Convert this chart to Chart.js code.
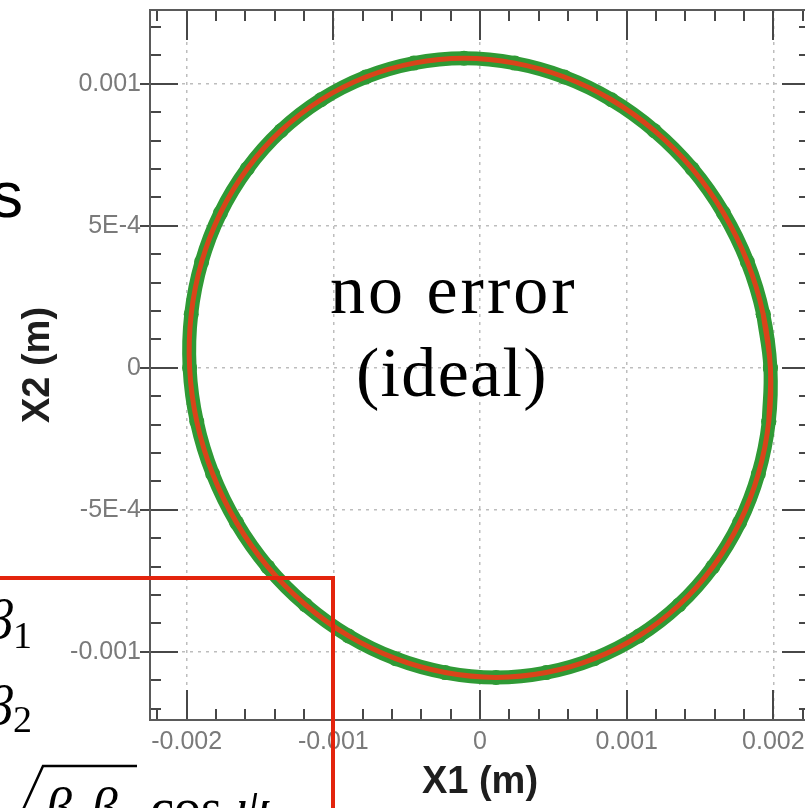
<!DOCTYPE html>
<html>
<head>
<meta charset="utf-8">
<script src="https://cdn.jsdelivr.net/npm/chart.js@4/dist/chart.umd.min.js"></script>
<style>
  html, body { margin: 0; padding: 0; background: #fff; overflow: hidden; }
  #wrap { position: relative; width: 805px; height: 808px; overflow: hidden; background: #fff; }
  #plot { position: absolute; left: 0; top: 0; }
  .txt { position: absolute; white-space: nowrap; line-height: 1; }
  .sans { font-family: "Liberation Sans", Arial, sans-serif; color: #000; }
  .serif { font-family: "Liberation Serif", "Times New Roman", serif; color: #000; }
  .it { font-style: italic; }
  #box { position: absolute; left: -10px; top: 576px; width: 341px; height: 300px;
         border-top: 4.5px solid #e3240d; border-right: 4.5px solid #e3240d; }
  .sub { font-size: 0.7em; position: relative; top: 0.22em; }
</style>
</head>
<body>
<div id="wrap">
  <canvas id="plot" width="830" height="808"></canvas>

  <!-- tail of the slide heading -->
  <div class="txt sans" style="left:-9px; top:163px; font-size:64px;">s</div>

  <!-- label inside the plot -->
  <div class="txt serif" style="left:330px; top:255px; font-size:70px; letter-spacing:3px;">no error</div>
  <div class="txt serif" style="left:356px; top:338px; font-size:70px; letter-spacing:1.3px;">(ideal)</div>

  <!-- twiss-parameter box -->
  <div id="box"></div>
  <div class="txt serif it" style="left:-14px; top:593px; font-size:54px;">β</div>
  <div class="txt serif" style="left:13px; top:616px; font-size:38px;">1</div>
  <div class="txt serif it" style="left:-14px; top:679px; font-size:54px;">β</div>
  <div class="txt serif" style="left:13px; top:700px; font-size:38px;">2</div>
  <svg style="position:absolute; left:0; top:0;" width="805" height="808">
    <polyline points="22,812 43,766 137,766" fill="none" stroke="#000" stroke-width="2.5"/>
  </svg>
  <div class="txt serif" style="left:45px; top:781px; font-size:54px;"><span class="it">β</span><span class="sub">1</span><span class="it">β</span><span class="sub">2</span> cos <span class="it">ψ</span><span class="sub">21</span></div>
</div>

<script>
// Turn-by-turn orbit in the (X1, X2) plane, metres.
// The list wraps one step past its start so the closed curve joins smoothly.
const x1Orbit = [0.001969, 0.00198, 0.001931, 0.001823, 0.001660, 0.001447, 0.001189, 0.000896, 0.000575, 0.000237,
                 -0.000109, -0.000451, -0.000779, -0.001084, -0.001357, -0.001587, -0.001770, -0.001898, -0.001969,
                 -0.00198, -0.001931, -0.001823, -0.001660, -0.001447, -0.001189, -0.000896, -0.000575, -0.000237,
                 0.000109, 0.000451, 0.000779, 0.001084, 0.001357, 0.001587, 0.001770, 0.001898, 0.001969,
                 0.00198, 0.001931];
const x2Orbit = [-0.000189, 0, 0.000189, 0.000373, 0.000545, 0.000701, 0.000835, 0.000944, 0.001024, 0.001073,
                 0.00109, 0.001073, 0.001024, 0.000944, 0.000835, 0.000701, 0.000545, 0.000373, 0.000189,
                 0, -0.000189, -0.000373, -0.000545, -0.000701, -0.000835, -0.000944, -0.001024, -0.001073,
                 -0.00109, -0.001073, -0.001024, -0.000944, -0.000835, -0.000701, -0.000545, -0.000373, -0.000189,
                 0, 0.000189];

// Axis ticks and their printed labels
const xTickValues = [-0.002, -0.001, 0, 0.001, 0.002];
const xTickLabels = ['-0.002', '-0.001', '0', '0.001', '0.002'];
const yTickValues = [-0.001, -0.0005, 0, 0.0005, 0.001];
const yTickLabels = ['-0.001', '-5E-4', '0', '5E-4', '0.001'];
const xMinorStep = 0.0002;
const yMinorStep = 0.0001;

const orbitPoints = x1Orbit.map((v, i) => ({ x: v, y: x2Orbit[i] }));

// Box frame with inward major/minor ticks on all four sides
const frameTicks = {
  id: 'frameTicks',
  afterDraw(chart) {
    const { ctx, chartArea: a, scales: { x, y } } = chart;
    ctx.save();
    ctx.strokeStyle = '#474747';
    ctx.lineWidth = 2;
    ctx.beginPath();
    const xt = (v, len) => {
      const p = Math.round(x.getPixelForValue(v));
      ctx.moveTo(p, a.bottom); ctx.lineTo(p, a.bottom - len);
      ctx.moveTo(p, a.top); ctx.lineTo(p, a.top + len);
    };
    const yt = (v, len, out) => {
      const p = Math.round(y.getPixelForValue(v));
      ctx.moveTo(a.left - out, p); ctx.lineTo(a.left + len, p);
      ctx.moveTo(a.right, p); ctx.lineTo(a.right - len, p);
    };
    xTickValues.forEach(v => xt(v, 30));
    yTickValues.forEach(v => yt(v, 28, 10));
    for (let k = Math.ceil(x.min / xMinorStep); k <= Math.floor(x.max / xMinorStep); k++) {
      if (k % 5 !== 0) xt(k * xMinorStep, 11);
    }
    for (let k = Math.ceil(y.min / yMinorStep); k <= Math.floor(y.max / yMinorStep); k++) {
      if (k % 5 !== 0) yt(k * yMinorStep, 11, 0);
    }
    ctx.stroke();
    ctx.strokeStyle = '#5a5a5a';
    ctx.strokeRect(a.left, a.top, a.right - a.left, a.bottom - a.top);
    ctx.restore();
  }
};

const tickFont = { family: '"Liberation Sans", Arial, sans-serif', size: 25 };
const titleFont = { family: '"Liberation Sans", Arial, sans-serif', size: 38, weight: 'bold' };
const gridOpts = { color: '#bdbdbd', lineWidth: 1.5, drawTicks: false };

new Chart(document.getElementById('plot'), {
  type: 'scatter',
  data: {
    datasets: [
      {
        label: 'ideal',
        data: orbitPoints,
        showLine: true,
        tension: 0.4,
        borderColor: '#d9441a',
        borderWidth: 5,
        pointRadius: 0,
        borderJoinStyle: 'round',
        order: 0
      },
      {
        label: 'tracked',
        data: orbitPoints,
        showLine: true,
        tension: 0.4,
        borderColor: '#2f9a35',
        borderWidth: 14,
        pointRadius: 7.5,
        pointBackgroundColor: '#2f9a35',
        pointBorderWidth: 0,
        borderJoinStyle: 'round',
        order: 1
      }
    ]
  },
  options: {
    responsive: false,
    animation: false,
    devicePixelRatio: 1,
    layout: { padding: { left: 0, top: 10, right: 20, bottom: 0 } },
    plugins: { legend: { display: false }, tooltip: { enabled: false } },
    scales: {
      x: {
        type: 'linear',
        min: -0.00225,
        max: 0.00225,
        afterBuildTicks: s => { s.ticks = xTickValues.map(v => ({ value: v })); },
        afterFit: s => { s.height = 88; s.paddingLeft = 0; s.paddingRight = 0; },
        ticks: {
          autoSkip: false, maxRotation: 0, minRotation: 0, padding: 7,
          color: '#7a7a7a', font: tickFont,
          callback: (v, i) => xTickLabels[i]
        },
        grid: gridOpts,
        border: { display: false, dash: [3, 5] },
        title: { display: true, text: 'X1 (m)', color: '#1e1e1e', font: titleFont, padding: { top: 0, bottom: 3 } }
      },
      y: {
        type: 'linear',
        min: -0.00124,
        max: 0.00126,
        afterBuildTicks: s => { s.ticks = yTickValues.map(v => ({ value: v })); },
        afterFit: s => { s.width = 150; s.paddingTop = 0; s.paddingBottom = 0; },
        ticks: {
          autoSkip: false, padding: 9,
          color: '#7a7a7a', font: tickFont,
          callback: (v, i) => yTickLabels[i]
        },
        grid: gridOpts,
        border: { display: false, dash: [3, 5] },
        title: { display: true, text: 'X2 (m)', color: '#1e1e1e', font: titleFont, padding: { top: 16, bottom: 0 } }
      }
    }
  },
  plugins: [frameTicks]
});
</script>
</body>
</html>
